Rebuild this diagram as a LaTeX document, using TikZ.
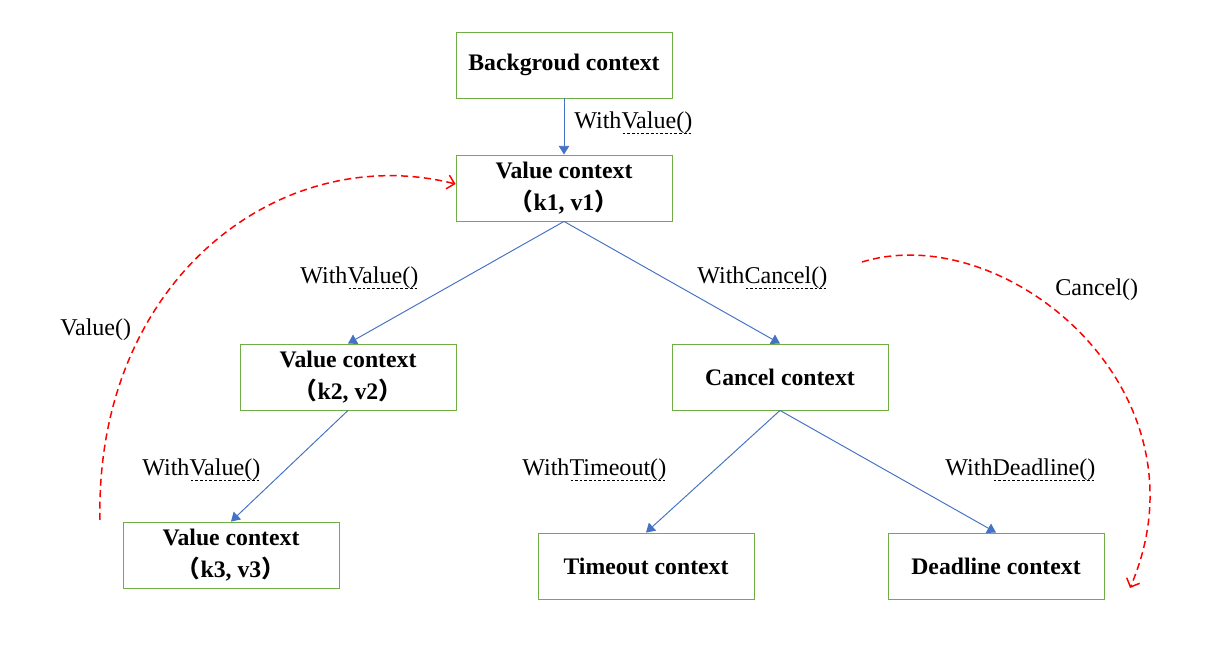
\documentclass[tikz,border=0pt]{standalone}
\usepackage{fontspec}
\setmainfont{Liberation Serif}
\newfontfamily\cjk{Noto Sans CJK SC}
\usetikzlibrary{arrows.meta}
\definecolor{boxgreen}{HTML}{70AD47}
\definecolor{linkblue}{HTML}{4472C4}
\newsavebox{\wlbox}
\newcommand{\wl}[1]{With\sbox{\wlbox}{#1}%
  \rlap{\raisebox{-2.8pt}{\makebox[\wd\wlbox][l]{\xleaders\hbox to 2.6pt{\hss\rule{1.5pt}{0.4pt}\hss}\hfill}}}\usebox{\wlbox}}
\newcommand{\kv}[1]{{\cjk （}#1{\cjk ）}}

\begin{document}
\begin{tikzpicture}[x=0.02cm,y=-0.02cm,
    ctx/.style={draw=boxgreen,line width=0.5pt,minimum width=4.32cm,minimum height=1.32cm,
        align=center,font=\fontsize{13.5}{18}\selectfont\bfseries},
    lbl/.style={anchor=west,font=\fontsize{13.7}{16}\selectfont,inner sep=0pt},
    link/.style={draw=linkblue,line width=0.55pt,-{Triangle[length=5pt,width=6pt]}},
    call/.style={draw=red,dash pattern=on 4pt off 2.5pt,line width=0.85pt,-{Straight Barb[length=4pt,width=8pt]}}]
    \useasboundingbox (0,0) rectangle (1215,648);
    % Contextele
    \node[ctx] (bg) at (564,65) {Backgroud context};
    \node[ctx] (val1) at (564,188) {Value context\\\kv{k1, v1}};
    \node[ctx] (val2) at (348,377) {Value context\\\kv{k2, v2}};
    \node[ctx] (cancel) at (780,377) {Cancel context};
    \node[ctx] (val3) at (231,555) {Value context\\\kv{k3, v3}};
    \node[ctx] (timeout) at (646,566) {Timeout context};
    \node[ctx] (deadline) at (996,566) {Deadline context};
    % Legaturi
    \draw[link] (bg.south) -- (val1.north);
    \draw[link] (val1.south) -- (val2.north);
    \draw[link] (val1.south) -- (cancel.north);
    \draw[link] (val2.south) -- (val3.north);
    \draw[link] (cancel.south) -- (timeout.north);
    \draw[link] (cancel.south) -- (deadline.north);
    % Etichete
    \node[lbl] (l1) at (574,123) {\wl{Value()}};
    \node[lbl] (l2) at (300,278) {\wl{Value()}};
    \node[lbl] (l3) at (697,278) {\wl{Cancel()}};
    \node[lbl] (l4) at (142,470) {\wl{Value()}};
    \node[lbl] (l5) at (522,470) {\wl{Timeout()}};
    \node[lbl] (l6) at (945,470) {\wl{Deadline()}};
    \node[lbl] (lv) at (60,330) {Value()};
    \node[lbl] (lc) at (1055,290) {Cancel()};
    % Apeluri
    \coordinate (vstart) at (100,520);
    \coordinate (cstart) at (862,262);
    \coordinate (cend) at (1130,588);
    \draw[call] (vstart) .. controls (95,280) and (280,140) .. ([yshift=0.08cm]val1.west);
    \draw[call] (cstart) .. controls (1005,218) and (1215,390) .. (cend);
\end{tikzpicture}
\end{document}
